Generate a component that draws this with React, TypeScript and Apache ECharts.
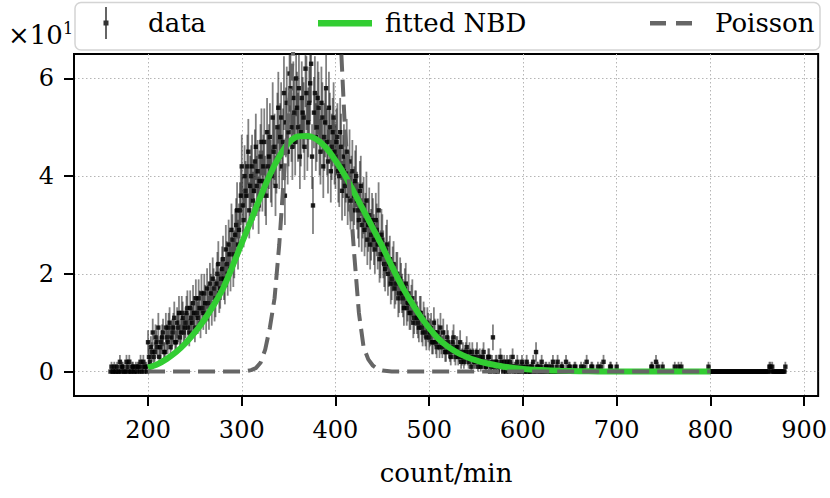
import React, { useEffect, useRef } from "react";
import * as echarts from "echarts";

// ---- data (counts per bin of count/min) ----
// even bins: 160, 162, ... 880
const evenStart = 160;
// odd bins: 161, 163, ... 879
const oddStart = 161;
const binStep = 2;

// even 160..198
const countsLeft = [0, 0, 1, 0, 0, 2, 1, 0, 0, 1, 2, 0, 1, 0, 0, 1, 2, 1, 0, 1];
// even 200..298
const countsRise = [
  6, 2, 4, 3, 7, 5, 3, 6, 8, 4,
  7, 9, 5, 8, 11, 6, 9, 7, 12, 8,
  10, 13, 8, 11, 14, 9, 12, 15, 10, 13,
  16, 11, 14, 18, 13, 17, 15, 20, 16, 19,
  23, 18, 22, 26, 21, 27, 24, 30, 26, 33,
];
// even 300..398
const countsPeak = [
  42, 31, 37, 42, 33, 40, 35, 43, 38, 34,
  44, 39, 47, 36, 42, 48, 40, 45, 38, 50,
  44, 52, 47, 36, 55, 49, 58, 46, 53, 60,
  50, 44, 56, 52, 62, 48, 55, 63, 34, 57,
  50, 54, 45, 52, 48, 58, 43, 50, 46, 52,
];
// even 400..498
const countsFall = [
  44, 48, 40, 46, 42, 38, 45, 39, 35, 41,
  36, 40, 33, 37, 30, 34, 31, 27, 32, 28,
  30, 25, 29, 33, 24, 27, 22, 25, 20, 23,
  19, 22, 18, 20, 16, 18, 15, 17, 13, 16,
  12, 15, 11, 13, 10, 12, 9, 11, 8, 10,
];
// even 500..598
const countsTail = [
  7, 9, 6, 8, 5, 7, 9, 5, 6, 4,
  6, 4, 5, 7, 3, 5, 4, 2, 4, 3,
  5, 2, 3, 4, 2, 3, 1, 3, 2, 4,
  1, 2, 3, 1, 7, 0, 2, 1, 3, 1,
  2, 0, 1, 2, 1, 0, 1, 2, 0, 1,
];
// even 600..698
const countsFar = [
  1, 0, 2, 1, 0, 1, 0, 4, 1, 0,
  2, 0, 1, 0, 1, 0, 2, 0, 1, 0,
  0, 1, 0, 2, 0, 1, 0, 0, 1, 0,
  0, 1, 0, 0, 2, 0, 0, 1, 0, 0,
  1, 0, 0, 2, 0, 0, 0, 1, 0, 0,
];
// even 700..880
const countsEnd = [
  1, 0, 0, 0, 0, 0, 0, 0, 0, 0,
  0, 0, 0, 0, 0, 0, 0, 0, 0, 1,
  0, 2, 1, 0, 0, 0, 0, 0, 0, 0,
  0, 1, 0, 1, 0, 0, 0, 0, 0, 0,
  0, 0, 0, 0, 0, 0, 0, 0, 0, 1,
  0, 0, 0, 0, 0, 0, 0, 0, 0, 0,
  0, 0, 0, 0, 0, 0, 0, 0, 0, 0,
  0, 0, 0, 0, 0, 0, 0, 0, 0, 0,
  0, 0, 1, 1, 0, 0, 0, 0, 0, 0,
  1,
];

// odd 161..199
const oddLeft = [1, 0, 0, 1, 0, 0, 1, 0, 2, 0, 0, 1, 0, 1, 1, 0, 0, 2, 1, 0];
// odd 201..299
const oddRise = [
  3, 5, 8, 4, 6, 9, 5, 7, 4, 9,
  6, 10, 7, 9, 6, 10, 12, 8, 11, 9,
  12, 9, 13, 10, 12, 15, 11, 13, 16, 12,
  14, 17, 12, 16, 19, 14, 18, 22, 17, 21,
  19, 25, 20, 24, 29, 22, 28, 33, 29, 36,
];
// odd 301..399
const oddPeak = [
  34, 40, 36, 45, 38, 42, 37, 46, 41, 39,
  47, 42, 38, 49, 44, 41, 52, 46, 43, 54,
  48, 42, 57, 51, 45, 61, 50, 56, 47, 54,
  58, 49, 53, 46, 57, 51, 59, 44, 53, 48,
  56, 47, 55, 42, 51, 47, 54, 41, 49, 45,
];
// odd 401..499
const oddFall = [
  47, 41, 49, 37, 44, 41, 36, 43, 38, 33,
  39, 35, 31, 38, 33, 29, 35, 30, 26, 31,
  27, 31, 26, 23, 28, 24, 21, 26, 22, 18,
  21, 17, 20, 15, 19, 16, 13, 18, 14, 12,
  14, 10, 13, 11, 9, 12, 8, 10, 7, 9,
];
// odd 501..599
const oddTail = [
  8, 6, 10, 6, 8, 5, 6, 8, 4, 7,
  5, 3, 6, 4, 5, 3, 6, 3, 2, 4,
  3, 4, 1, 3, 2, 4, 2, 1, 3, 2,
  1, 3, 0, 2, 1, 2, 0, 1, 2, 0,
  1, 2, 0, 1, 3, 1, 0, 1, 0, 2,
];
// odd 601..699
const oddFar = [
  0, 1, 0, 0, 1, 2, 0, 1, 0, 1,
  0, 0, 1, 0, 0, 1, 0, 0, 2, 0,
  1, 0, 0, 0, 1, 0, 0, 1, 0, 0,
  0, 0, 1, 0, 0, 0, 1, 0, 0, 0,
  0, 1, 0, 0, 0, 0, 1, 0, 0, 0,
];
// odd 701..879
const oddEnd = [
  0, 0, 0, 0, 0, 0, 0, 0, 0, 0,
  0, 0, 0, 0, 0, 0, 0, 0, 1, 0,
  0, 0, 0, 0, 1, 0, 0, 0, 0, 0,
  0, 0, 0, 0, 1, 0, 0, 0, 0, 0,
  0, 0, 0, 0, 0, 0, 0, 0, 0, 0,
  0, 0, 0, 0, 0, 0, 0, 0, 0, 0,
  0, 0, 0, 0, 0, 0, 0, 0, 0, 0,
  0, 0, 0, 0, 0, 0, 0, 0, 0, 0,
  0, 1, 0, 0, 0, 0, 0, 0, 0, 0,
];

// fitted NBD curve
const nbdX = [200, 210, 220, 230, 240, 250, 260, 270, 280, 290, 300, 310, 320, 330, 340, 350, 360, 370, 380, 390, 400, 410, 420, 430, 440, 450, 460, 470, 480, 490, 500, 510, 520, 530, 540, 550, 560, 570, 580, 590, 600, 620, 640, 660, 680, 700, 750, 800];
const nbdY = [0.8, 1.5, 2.6, 4.0, 5.8, 8.0, 10.6, 13.6, 17.0, 21.5, 26.3, 31.0, 35.8, 40.3, 44.0, 46.8, 48.1, 48.2, 47.5, 45.8, 43.2, 40.2, 36.6, 33.0, 29.3, 25.6, 21.6, 17.8, 14.5, 11.5, 8.9, 6.7, 5.1, 3.9, 3.0, 2.3, 1.75, 1.35, 1.0, 0.75, 0.55, 0.3, 0.15, 0.08, 0.04, 0.02, 0, 0];

// Poisson curve
const poissonX = [200, 300, 305, 310, 315, 320, 325, 330, 335, 340, 345, 350, 355, 360, 365, 370, 375, 380, 385, 390, 395, 400, 405, 410, 415, 420, 425, 430, 435, 440, 445, 450, 460, 800];
const poissonY = [0, 0, 0.1, 0.3, 0.7, 1.8, 4.5, 9, 15, 26, 40, 53, 66, 95, 130, 165, 185, 190, 180, 160, 130, 95, 70, 50, 37, 24, 12, 5, 2.5, 1.2, 0.5, 0.2, 0, 0];

const xTicks = [200, 300, 400, 500, 600, 700, 800, 900];
const yTicks = [0, 20, 40, 60];
const seriesNames = ["data", "fitted NBD", "Poisson"];

const FONT = "DejaVu Serif";
const GREEN = "#32CD32";
const GRAY = "#666666";

export default function App() {
  const ref = useRef<HTMLDivElement>(null);

  useEffect(() => {
    document.body.style.margin = "0";
    const chart = echarts.init(ref.current!, null, { renderer: "svg" });

    const evenCounts = [
      ...countsLeft, ...countsRise, ...countsPeak, ...countsFall,
      ...countsTail, ...countsFar, ...countsEnd,
    ];
    const oddCounts = [
      ...oddLeft, ...oddRise, ...oddPeak, ...oddFall,
      ...oddTail, ...oddFar, ...oddEnd,
    ];
    const points = [
      ...evenCounts.map((c, i) => [evenStart + i * binStep, c]),
      ...oddCounts.map((c, i) => [oddStart + i * binStep, c]),
    ];
    const nbd = nbdX.map((x, i) => [x, nbdY[i]]);
    const poisson = poissonX.map((x, i) => [x, poissonY[i]]);

    const gridLine = {
      show: true,
      lineStyle: { color: "#b5b5b5", width: 1, type: [1.5, 2.5] as any },
    };

    const legendText = { fontFamily: FONT, fontSize: 26, color: "#000" };

    const option: any = {
      animation: false,
      backgroundColor: "#fff",
      grid: {
        left: 74,
        right: 10,
        top: 54,
        bottom: 102,
        show: true,
        borderColor: "#000",
        borderWidth: 2,
        backgroundColor: "transparent",
      },
      xAxis: {
        type: "value",
        min: 121,
        max: 915,
        name: "count/min",
        nameLocation: "middle",
        nameGap: 64,
        nameTextStyle: { fontFamily: FONT, fontSize: 26, color: "#000" },
        axisLine: { show: true, onZero: false, lineStyle: { color: "#000", width: 2 } },
        axisTick: {
          show: true,
          length: 10,
          inside: false,
          lineStyle: { color: "#000", width: 2 },
          customValues: xTicks,
        },
        axisLabel: {
          fontFamily: FONT,
          fontSize: 24,
          color: "#000",
          margin: 22,
          customValues: xTicks,
        },
        splitLine: gridLine,
      },
      yAxis: {
        type: "value",
        min: -5,
        max: 65,
        axisLine: { show: true, onZero: false, lineStyle: { color: "#000", width: 2 } },
        axisTick: {
          show: true,
          length: 10,
          inside: false,
          lineStyle: { color: "#000", width: 2 },
          customValues: yTicks,
        },
        axisLabel: {
          fontFamily: FONT,
          fontSize: 24,
          color: "#000",
          margin: 20,
          customValues: yTicks,
          formatter: (v: number) => String(v / 10),
        },
        splitLine: gridLine,
      },
      legend: [
        {
          left: 77,
          top: 7,
          padding: 0,
          itemWidth: 66,
          itemHeight: 32,
          selectedMode: false,
          textStyle: legendText,
          data: [
            {
              name: seriesNames[0],
              icon: "path://M0 0M66 32M28.25 0h1.5v32h-1.5ZM26.5 13.5h5v5h-5Z",
              itemStyle: { color: "#333" },
            },
          ],
        },
        {
          left: 318,
          top: 7,
          padding: 0,
          itemWidth: 62,
          itemHeight: 32,
          selectedMode: false,
          textStyle: legendText,
          data: [
            {
              name: seriesNames[1],
              icon: "path://M0 0M62 32M0 13h54v6.5h-54Z",
              itemStyle: { color: GREEN },
            },
          ],
        },
        {
          left: 648,
          top: 7,
          padding: 0,
          itemWidth: 62,
          itemHeight: 32,
          selectedMode: false,
          textStyle: legendText,
          data: [
            {
              name: seriesNames[2],
              icon: "path://M0 0M62 32M2 14h16v4.5h-16ZM28 14h16v4.5h-16Z",
              itemStyle: { color: GRAY },
            },
          ],
        },
      ],
      graphic: [
        {
          type: "rect",
          z: 0,
          shape: { x: 75, y: 2.5, width: 745, height: 47.5, r: 6 },
          style: { fill: "#fff", stroke: "#d4d4d4", lineWidth: 1.5 },
        },
        {
          type: "text",
          x: 8,
          y: 48,
          style: {
            text: "×10",
            fontFamily: FONT,
            fontSize: 26,
            fill: "#000",
            verticalAlign: "bottom",
          },
        },
        {
          type: "text",
          x: 63,
          y: 36,
          style: {
            text: "1",
            fontFamily: FONT,
            fontSize: 16,
            fill: "#000",
            verticalAlign: "bottom",
          },
        },
      ],
      series: [
        {
          name: seriesNames[0],
          type: "custom",
          z: 2,
          clip: true,
          itemStyle: { color: "#333" },
          encode: { x: 0, y: 1 },
          data: points,
          renderItem: (params: any, api: any) => {
            const x = api.value(0);
            const y = api.value(1);
            const e = Math.sqrt(y);
            const top = api.coord([x, y + e]);
            const bot = api.coord([x, y - e]);
            const c = api.coord([x, y]);
            return {
              type: "group",
              children: [
                {
                  type: "line",
                  shape: { x1: top[0], y1: top[1], x2: bot[0], y2: bot[1] },
                  style: { stroke: "rgba(25,25,25,0.55)", lineWidth: 1.8 },
                },
                {
                  type: "rect",
                  shape: { x: c[0] - 2.2, y: c[1] - 2.2, width: 4.4, height: 4.4 },
                  style: { fill: "rgba(0,0,0,0.85)" },
                },
              ],
            };
          },
        },
        {
          name: seriesNames[1],
          type: "line",
          z: 3,
          data: nbd,
          symbol: "none",
          smooth: 0.3,
          itemStyle: { color: GREEN },
          lineStyle: { color: GREEN, width: 6 },
        },
        {
          name: seriesNames[2],
          type: "line",
          z: 4,
          data: poisson,
          symbol: "none",
          itemStyle: { color: GRAY },
          lineStyle: { color: GRAY, width: 4, type: [17, 8], cap: "butt" },
        },
      ],
    };

    chart.setOption(option);
    return () => chart.dispose();
  }, []);

  return <div ref={ref} style={{ width: 830, height: 498 }} />;
}
